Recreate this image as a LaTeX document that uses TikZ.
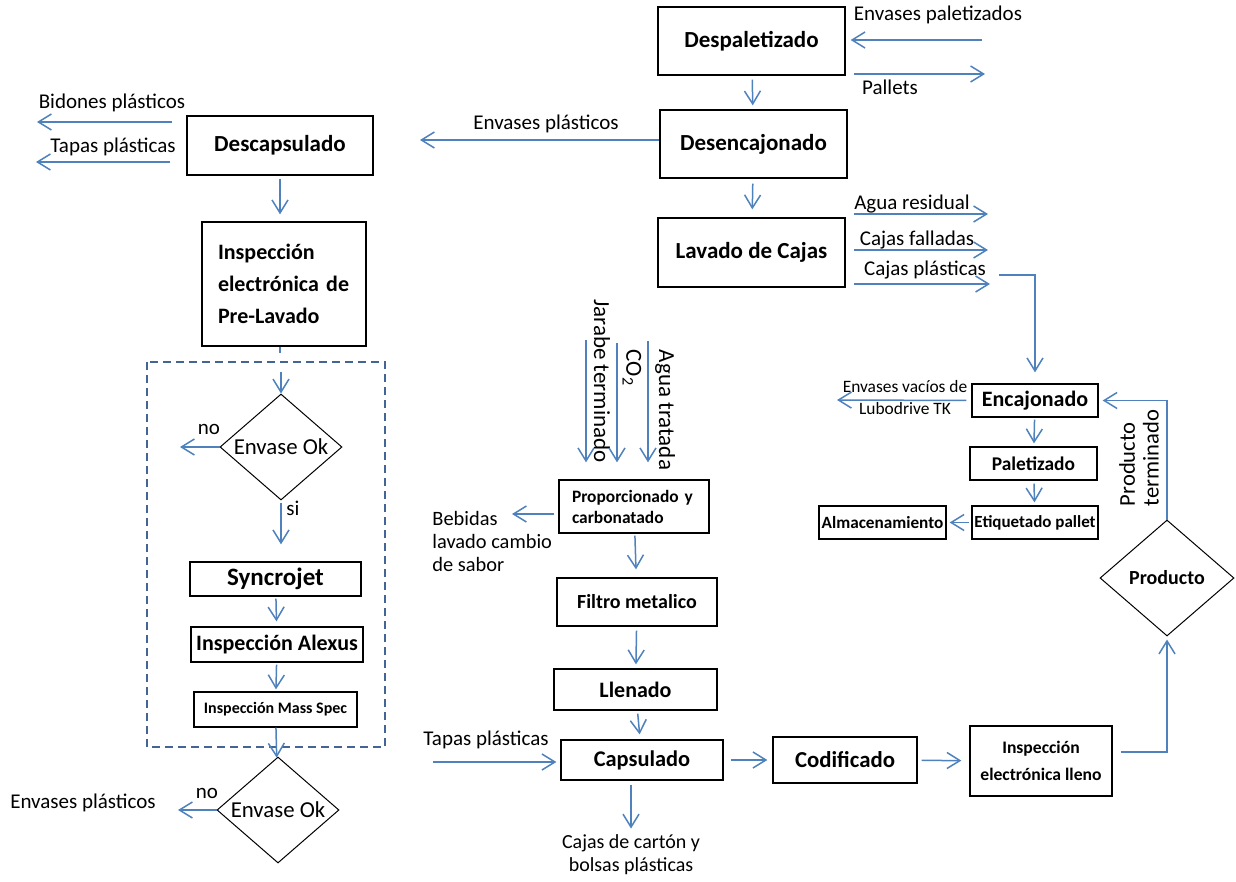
\documentclass[tikz,border=0pt]{standalone}
\usepackage{fontspec}
\setmainfont{Carlito}
\usetikzlibrary{arrows.meta,shapes.geometric}
\definecolor{flowblue}{RGB}{79,129,189}
\definecolor{dashblue}{RGB}{68,100,150}
\newcommand\fnt[2]{\fontsize{#1}{#2}\selectfont}

\begin{document}
\begin{tikzpicture}[x=0.5pt,y=-0.5pt,
    box/.style={draw, line width=0.65pt, inner sep=0pt, align=center},
    decision/.style={draw, diamond, aspect=1.15, line width=0.5pt, inner sep=0pt},
    flow/.style={draw=flowblue, line width=0.75pt, -{Straight Barb[length=6.5pt,width=8pt]}},
    lbl/.style={inner sep=0pt, font=\fnt{10.5}{12}}]

    \useasboundingbox (0,0) rectangle (1236,882);

    % Line of crates
    \node[box, font=\bfseries\fnt{11.5}{14}, minimum width=93.5pt, minimum height=34pt] (despal) at (751.5,41) {Despaletizado};
    \node[box, font=\bfseries\fnt{11.5}{14}, minimum width=93.5pt, minimum height=34pt] (desenc) at (753.5,144) {Desencajonado};
    \node[box, font=\bfseries\fnt{11.5}{14}, minimum width=93.5pt, minimum height=34.5pt] (lavado) at (751.5,252.5) {Lavado de Cajas};

    % Empty bottles column
    \node[box, font=\bfseries\fnt{11.5}{14}, minimum width=93pt, minimum height=29.5pt] (descap) at (280,145.5) {Descapsulado};
    \node[box, font=\bfseries\fnt{11}{16}, text width=66pt, inner xsep=8pt, align=left, minimum height=62pt] (preinsp) at (284,284) {Inspección\\electrónica de\\Pre-Lavado};
    \draw[dashblue, line width=0.6pt, dash pattern=on 4pt off 2.5pt] (147,362) rectangle (385,747);
    \node[decision, font=\fnt{11.4}{13}, minimum width=61pt, minimum height=53pt] (ok1) at (281,447) {Envase Ok};
    \node[box, font=\bfseries\fnt{12.5}{14}, minimum width=85.5pt, minimum height=17pt] (sync) at (275.5,579) {Syncrojet};
    \node[box, font=\bfseries\fnt{11}{13}, minimum width=86pt, minimum height=17.5pt] (alexus) at (277,644.5) {Inspección Alexus};
    \node[box, font=\bfseries\fnt{8}{10}, minimum width=81.5pt, minimum height=17.5pt] (mass) at (275.5,709.5) {Inspección Mass Spec};
    \node[decision, font=\fnt{11.4}{13}, minimum width=61pt, minimum height=53pt] (ok2) at (278,810) {Envase Ok};

    % Filling line
    \node[box, font=\bfseries\fnt{8.7}{10.5}, text width=62pt, inner xsep=6.5pt, align=left, minimum height=26.5pt] (prop) at (634,506.5) {Proporcionado y\\carbonatado};
    \node[box, font=\bfseries\fnt{10}{12}, minimum width=80pt, minimum height=24pt] (filtro) at (637,602) {Filtro metalico};
    \node[box, font=\bfseries\fnt{11}{13}, minimum width=81.5pt, minimum height=20.5pt] (llenado) at (635.5,689.5) {Llenado};
    \node[box, font=\bfseries\fnt{11.2}{13}, minimum width=81pt, minimum height=20pt] (capsul) at (642,760) {Capsulado};
    \node[box, font=\bfseries\fnt{11.4}{13}, minimum width=72pt, minimum height=23pt] (codif) at (845,760) {Codificado};
    \node[box, font=\bfseries\fnt{8.8}{13.5}, minimum width=71pt, minimum height=35pt] (insplleno) at (1041,761) {Inspección\\electrónica lleno};

    % Packing
    \node[decision, font=\bfseries\fnt{10}{12}, minimum width=67pt, minimum height=58pt] (producto) at (1167,578) {Producto};
    \node[box, font=\bfseries\fnt{11}{13}, minimum width=63pt, minimum height=16.5pt] (encaj) at (1035,400.5) {Encajonado};
    \node[box, font=\bfseries\fnt{9.7}{12}, minimum width=63.5pt, minimum height=16.5pt] (palet) at (1033.5,463.5) {Paletizado};
    \node[box, font=\bfseries\fnt{8.5}{10}, minimum width=63pt, minimum height=16.5pt] (etiq) at (1035,522.5) {Etiquetado pallet};
    \node[box, font=\bfseries\fnt{8.6}{10}, minimum width=63.5pt, minimum height=16.5pt] (almac) at (882.5,522.5) {Almacenamiento};

    % Free ends
    \coordinate (palin) at (982,40);
    \coordinate (palout) at (985,74);
    \coordinate (aguaout) at (988,214);
    \coordinate (fallout) at (988,250);
    \coordinate (cajout) at (990,284);
    \coordinate (cajback) at (999,275);
    \coordinate (envout) at (420,140);
    \coordinate (bidout) at (37,122);
    \coordinate (tapout) at (36,162);
    \coordinate (ok1no) at (180,447);
    \coordinate (ok2no) at (178,810);
    \coordinate (jarin) at (586,340);
    \coordinate (co2in) at (617,343);
    \coordinate (aguain) at (648,341);
    \coordinate (bebout) at (512,514);
    \coordinate (tapin) at (433,762);
    \coordinate (luboout) at (837,400);

    % Labels
    \node[lbl] (lpalin) at (938,15) {Envases paletizados};
    \node[lbl] (lpalout) at (890,87) {Pallets};
    \node[lbl] (lagua) at (912,204) {Agua residual};
    \node[lbl] (lfall) at (917,240) {Cajas falladas};
    \node[lbl] (lcaj) at (925,270) {Cajas plásticas};
    \node[lbl] (lenv) at (546,124) {Envases plásticos};
    \node[lbl] (lbid) at (112,103) {Bidones plásticos};
    \node[lbl] (ltap) at (113,147) {Tapas plásticas};
    \node[lbl] (lno1) at (209,429) {no};
    \node[lbl] (lsi) at (293,508) {si};
    \node[lbl] (lno2) at (207,793) {no};
    \node[lbl] (lenv2) at (83,803) {Envases plásticos};
    \node[lbl, font=\fnt{11.5}{13}, rotate=-90] (ljar) at (602,381) {Jarabe terminado};
    \node[lbl, font=\fnt{11.5}{13}, rotate=-90] (lco2) at (632,368) {CO\textsubscript{2}};
    \node[lbl, font=\fnt{11.5}{13}, rotate=-90] (laguat) at (665,410) {Agua tratada};
    \node[lbl, font=\fnt{10.2}{11.5}, align=left, anchor=west] (lbeb) at (432,541) {Bebidas\\lavado cambio\\de sabor};
    \node[lbl] (ltap2) at (486,740) {Tapas plásticas};
    \node[lbl, font=\fnt{10}{11.5}, align=center] (lcajas) at (631,855) {Cajas de cartón y\\bolsas plásticas};
    \node[lbl, font=\fnt{8.7}{11}, align=center] (llubo) at (905,398) {Envases vacíos de\\Lubodrive TK};
    \node[lbl, font=\fnt{11.3}{11.8}, align=left, rotate=90] (lprod) at (1139,458) {Producto\\terminado};

    % Connectors of the crates
    \draw[flow, shorten >=2.5pt] (palin) -- (despal.east |- palin);
    \draw[flow, shorten <=4pt] (despal.east |- palout) -- (palout);
    \draw[flow, shorten <=2pt, shorten >=2pt] (despal) -- (desenc);
    \draw[flow, shorten <=2.5pt, shorten >=4pt] (desenc) -- (lavado);
    \draw[flow, shorten <=4pt] (lavado.east |- aguaout) -- (aguaout);
    \draw[flow, shorten <=4pt] (lavado.east |- fallout) -- (fallout);
    \draw[flow, shorten <=4pt] (lavado.east |- cajout) -- (cajout);
    \draw[flow, shorten >=5.5pt] (cajback) -| (encaj.north);
    \draw[flow] (desenc.west |- envout) -- (envout);

    % Connectors of the bottles
    \draw[flow, shorten <=7pt] (descap.west |- bidout) -- (bidout);
    \draw[flow, shorten <=8pt] (descap.west |- tapout) -- (tapout);
    \draw[flow, shorten <=1.5pt, shorten >=3.5pt] (descap.south) -- (descap.south |- preinsp.north);
    \draw[flowblue, line width=0.75pt] ([xshift=-2pt]preinsp.south) -- ++(0,6);
    \draw[flow] ([yshift=11pt]ok1.north) -- (ok1.north);
    \draw[flow] (ok1.west) -- (ok1no);
    \draw[flow, shorten <=1pt, shorten >=8.5pt] (ok1.south) -- (ok1.south |- sync.north);
    \draw[flow, shorten <=1pt, shorten >=2.5pt] (sync) -- (alexus);
    \draw[flow, shorten <=1pt, shorten >=1pt] (alexus) -- (mass);
    \draw[flow] (mass) -- (ok2);
    \draw[flow] (ok2.west) -- (ok2no);

    % Connectors of the filling line
    \draw[flow, shorten >=8.5pt] (jarin) -- (jarin |- prop.north);
    \draw[flow, shorten >=8.5pt] (co2in) -- (co2in |- prop.north);
    \draw[flow, shorten >=8.5pt] (aguain) -- (aguain |- prop.north);
    \draw[flow, shorten <=2pt] (prop.west |- bebout) -- (bebout);
    \draw[flow, shorten <=1pt, shorten >=4pt] (prop) -- (filtro);
    \draw[flow, shorten <=2pt, shorten >=2pt] (filtro) -- (llenado);
    \draw[flow, shorten <=1.5pt, shorten >=2.5pt] (llenado) -- (capsul);
    \draw[flow, shorten >=2pt] (tapin) -- (capsul.west |- tapin);
    \draw[flow, shorten <=2pt, shorten >=3pt] (lcajas.north |- capsul.south) -- (lcajas.north);
    \draw[flow, shorten <=3.5pt, shorten >=2.5pt] (capsul) -- (codif);
    \draw[flow, shorten <=2pt, shorten >=4pt] (codif) -- (insplleno);
    \draw[flow, shorten <=4pt, shorten >=1.5pt] ([yshift=4.5pt]insplleno.east) -| (producto.south);

    % Connectors of the packing
    \draw[flow, shorten >=2pt] (producto.north) |- (encaj.east);
    \draw[flow, shorten <=1pt, shorten >=1.5pt] (encaj) -- (palet);
    \draw[flow, shorten <=1.5pt, shorten >=1.5pt] (palet) -- (etiq);
    \draw[flow, shorten <=1pt, shorten >=1.5pt] (etiq) -- (almac);
    \draw[flow, shorten <=2.5pt] (encaj.west) -- (luboout);

\end{tikzpicture}
\end{document}
